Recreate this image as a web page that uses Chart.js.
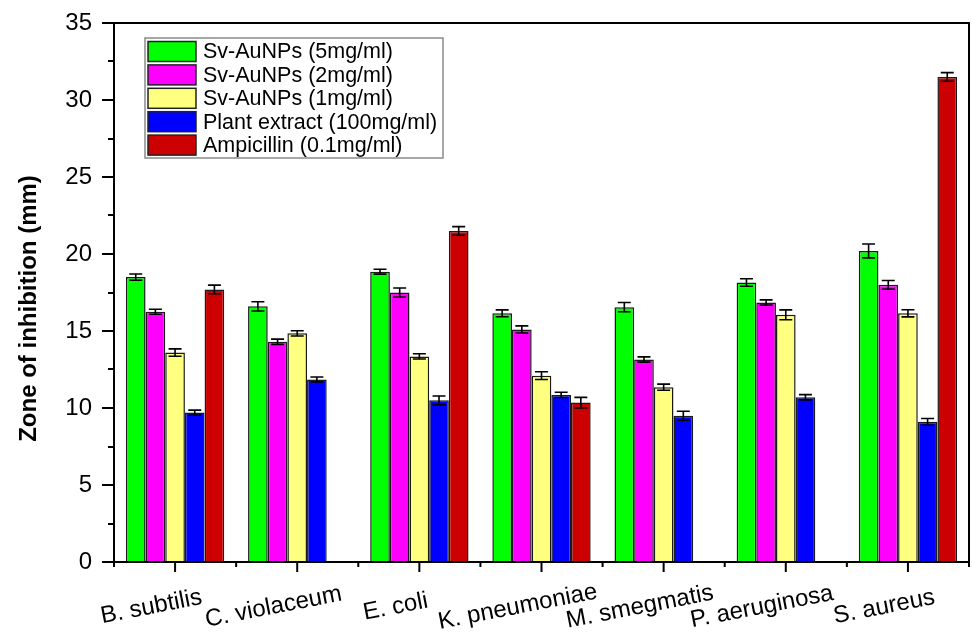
<!DOCTYPE html>
<html><head><meta charset="utf-8">
<script src="https://cdn.jsdelivr.net/npm/chart.js@4.4.1/dist/chart.umd.min.js"></script>
<style>html,body{margin:0;padding:0;background:#fff;} canvas{display:block;}</style>
</head><body>
<canvas id="c" width="972" height="637"></canvas>
<script>
// ---- data ----
const categories = ['B. subtilis','C. violaceum','E. coli','K. pneumoniae','M. smegmatis','P. aeruginosa','S. aureus'];
const seriesNames = ['Sv-AuNPs (5mg/ml)','Sv-AuNPs (2mg/ml)','Sv-AuNPs (1mg/ml)','Plant extract (100mg/ml)','Ampicillin (0.1mg/ml)'];
const au5      = [18.5, 16.6, 18.85, 16.15, 16.55, 18.15, 20.2];
const au5Err   = [0.20, 0.30, 0.16, 0.22, 0.30, 0.24, 0.45];
const au2      = [16.25, 14.3, 17.5, 15.1, 13.15, 16.85, 18.0];
const au2Err   = [0.16, 0.17, 0.29, 0.23, 0.17, 0.17, 0.28];
const au1      = [13.6, 14.85, 13.35, 12.1, 11.35, 16.05, 16.15];
const au1Err   = [0.24, 0.17, 0.17, 0.25, 0.20, 0.32, 0.23];
const plant    = [9.7, 11.85, 10.5, 10.85, 9.5, 10.7, 9.1];
const plantErr = [0.16, 0.16, 0.28, 0.17, 0.29, 0.17, 0.22];
const ampicillin = [17.7, null, 21.5, 10.35, null, null, 31.5];
const ampErr     = [0.28, null, 0.28, 0.34, null, null, 0.28];
const yMin = 0, yMax = 35, yMajorStep = 5, yMinorStep = 2.5;
const yTitle = 'Zone of inhibition (mm)';

const seriesValues = [au5, au2, au1, plant, ampicillin];
const seriesErrors = [au5Err, au2Err, au1Err, plantErr, ampErr];
const seriesColors = ['#00FF00', '#FF00FF', '#FFFF80', '#0000FF', '#CC0000'];

const FONT = '"Liberation Sans", Arial, Helvetica, sans-serif';

const errorBarPlugin = {
  id: 'errorBars',
  afterDatasetsDraw(chart) {
    const ctx = chart.ctx, y = chart.scales.y;
    ctx.save();
    ctx.strokeStyle = '#000';
    ctx.lineWidth = 1.6;
    chart.data.datasets.forEach((ds, i) => {
      const meta = chart.getDatasetMeta(i);
      const errs = seriesErrors[i];
      meta.data.forEach((bar, j) => {
        const v = ds.data[j], e = errs[j];
        if (v == null || e == null) return;
        const yt = y.getPixelForValue(v + e), yb = y.getPixelForValue(v - e);
        const half = bar.width * 0.33;
        ctx.beginPath();
        ctx.moveTo(bar.x, yt); ctx.lineTo(bar.x, yb);
        ctx.moveTo(bar.x - half, yt); ctx.lineTo(bar.x + half, yt);
        ctx.moveTo(bar.x - half, yb); ctx.lineTo(bar.x + half, yb);
        ctx.stroke();
      });
    });
    ctx.restore();
  }
};

const framePlugin = {
  id: 'frame',
  afterDatasetsDraw(chart) {
    const ctx = chart.ctx, a = chart.chartArea, x = chart.scales.x, y = chart.scales.y;
    ctx.save();
    ctx.strokeStyle = '#000';
    ctx.lineWidth = 2;
    ctx.strokeRect(a.left, a.top, a.right - a.left, a.bottom - a.top);
    ctx.beginPath();
    // y ticks (outward)
    for (let v = yMin; v <= yMax + 1e-9; v += yMinorStep) {
      const py = Math.round(y.getPixelForValue(v));
      const major = Math.abs(v / yMajorStep - Math.round(v / yMajorStep)) < 1e-6;
      ctx.moveTo(a.left, py); ctx.lineTo(a.left - (major ? 12 : 6), py);
    }
    // x ticks: major at categories, minor at boundaries
    const n = categories.length;
    for (let i = 0; i < n; i++) {
      const px = x.getPixelForTick(i);
      ctx.moveTo(px, a.bottom); ctx.lineTo(px, a.bottom + 10);
    }
    for (let i = 0; i <= n; i++) {
      const px = x.getPixelForValue(i - 0.5);
      ctx.moveTo(px, a.bottom); ctx.lineTo(px, a.bottom + 5);
    }
    ctx.stroke();
    ctx.restore();
  },
  afterDraw(chart) {
    const ctx = chart.ctx, a = chart.chartArea, x = chart.scales.x;
    ctx.save();
    // x category labels, rotated and centred
    ctx.fillStyle = '#000';
    ctx.font = '24px ' + FONT;
    ctx.textAlign = 'center';
    ctx.textBaseline = 'alphabetic';
    categories.forEach((lab, i) => {
      const px = x.getPixelForTick(i);
      ctx.save();
      ctx.translate(px - 22.5, a.bottom + 51.5);
      ctx.rotate(-11 * Math.PI / 180);
      ctx.fillText(lab, 0, 0);
      ctx.restore();
    });
    // y title
    ctx.font = 'bold 24px ' + FONT;
    ctx.textBaseline = 'middle';
    ctx.save();
    ctx.translate(29, (a.top + a.bottom) / 2 + 16);
    ctx.rotate(-Math.PI / 2);
    ctx.fillText(yTitle, 0, 0);
    ctx.restore();
    // legend
    const lx = a.left + 31, ly = a.top + 15, lw = 298, rowH = 23.4;
    const lh = rowH * seriesNames.length + 3;
    ctx.fillStyle = '#fff';
    ctx.fillRect(lx, ly, lw, lh);
    ctx.strokeStyle = '#8a8a8a';
    ctx.lineWidth = 1.5;
    ctx.strokeRect(lx, ly, lw, lh);
    ctx.font = '21.5px ' + FONT;
    ctx.textAlign = 'left';
    ctx.textBaseline = 'middle';
    seriesNames.forEach((name, i) => {
      const ry = ly + 3.5 + i * rowH;
      ctx.fillStyle = seriesColors[i];
      ctx.fillRect(lx + 3, ry, 48, 20);
      ctx.strokeStyle = '#222';
      ctx.lineWidth = 1.5;
      ctx.strokeRect(lx + 3, ry, 48, 20);
      ctx.fillStyle = '#000';
      ctx.fillText(name, lx + 58, ry + 11);
    });
    ctx.restore();
  }
};

new Chart(document.getElementById('c'), {
  type: 'bar',
  data: {
    labels: categories,
    datasets: seriesNames.map((name, i) => ({
      label: name,
      data: seriesValues[i],
      backgroundColor: seriesColors[i],
      borderColor: '#1a1a1a',
      borderWidth: 1.5,
      categoryPercentage: 0.805,
      barPercentage: 1.0
    }))
  },
  options: {
    responsive: false,
    animation: false,
    devicePixelRatio: 1,
    layout: { padding: { top: 23, right: 3, left: 0, bottom: 0 } },
    plugins: { legend: { display: false }, tooltip: { enabled: false } },
    scales: {
      x: {
        grid: { display: false, drawTicks: false },
        border: { display: false },
        ticks: { display: false },
        afterFit(s) { s.height = 75; }
      },
      y: {
        min: yMin, max: yMax,
        grid: { display: false, drawTicks: true, tickLength: 22 },
        border: { display: false },
        ticks: {
          stepSize: yMajorStep,
          padding: 0,
          color: '#000',
          font: { family: FONT, size: 24 }
        },
        afterFit(s) { s.width = 114; }
      }
    }
  },
  plugins: [errorBarPlugin, framePlugin]
});
</script>
</body></html>
